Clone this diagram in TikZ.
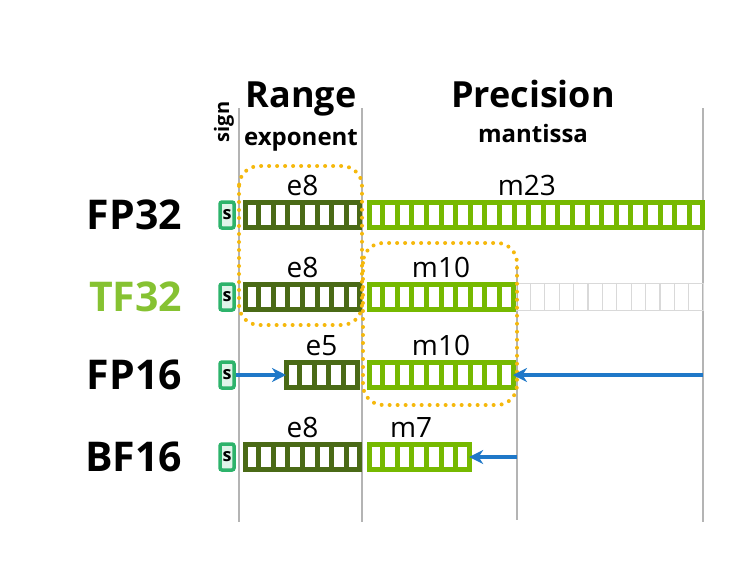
\documentclass[tikz,border=0pt]{standalone}
\usepackage{fontspec}
\setmainfont{Open Sans}
\usepackage{tikz}
\usetikzlibrary{arrows.meta,positioning,calc}
\definecolor{expo}{HTML}{4A6A16}
\definecolor{mant}{HTML}{76B900}
\definecolor{tfgreen}{HTML}{86C232}
\definecolor{signc}{HTML}{2DB36B}
\definecolor{arrowc}{HTML}{1F78C8}
\definecolor{gold}{HTML}{F5B80C}
\definecolor{rulec}{HTML}{B4B4B4}
\definecolor{ghost}{HTML}{D9D9D9}
\newcommand{\cw}{14.6}
\tikzset{
  bar/.style={draw=#1,line width=5pt,inner sep=0pt,outer sep=0pt,
              minimum height=25pt,anchor=west},
  signbox/.style={draw=signc,fill=signc!15,line width=3.5pt,rounded corners=2pt,
                  inner sep=0pt,minimum width=14pt,minimum height=26pt,
                  font=\fontsize{18}{18}\selectfont\bfseries},
  fmt/.style={font=\fontsize{41}{41}\selectfont\bfseries,inner sep=0pt,text depth=0pt},
  head/.style={font=\fontsize{36}{36}\selectfont\bfseries,inner sep=0pt,anchor=base},
  sub/.style={font=\fontsize{24}{24}\selectfont\bfseries,inner sep=0pt,anchor=base},
  lbl/.style={font=\fontsize{28}{28}\selectfont,inner sep=0pt,text depth=0pt},
  colrule/.style={rulec,line width=2pt},
  focus/.style={gold,line width=4pt,dash pattern=on 0pt off 8pt,
                line cap=round,rounded corners=20pt},
  shiftarrow/.style={-{Stealth[length=14pt,width=14pt]},line width=4.5pt,arrowc},
}

\begin{document}
\begin{tikzpicture}[x=1pt,y=-1pt]
  \useasboundingbox (0,0) rectangle (754,560);
  % column rules
  \draw[colrule] (239,108) -- (239,522);
  \draw[colrule] (362,108) -- (362,522);
  \draw[colrule] (517,265) -- (517,520);
  \draw[colrule] (703,108) -- (703,522);
  % headings
  \node[head] (range) at (301,107) {Range};
  \node[sub] (expol) at (301,145) {exponent};
  \node[head] (prec) at (533,107) {Precision};
  \node[sub] (mantl) at (533,142) {mantissa};
  \node[font=\fontsize{20}{20}\selectfont\bfseries,inner sep=0pt,rotate=90,
        anchor=base] (signl) at (229,122) {sign};
  % unused TF32 mantissa bits
  \node[draw=ghost,line width=1.2pt,inner sep=0pt,minimum width=13*14.4pt,
        minimum height=27pt,anchor=west] (tg) at (516,297) {};
  \foreach \k in {2,...,13}
    \draw[ghost,line width=1.2pt] ($(tg.north west)+({(\k-1)*14.4},0)$)
      -- ($(tg.south west)+({(\k-1)*14.4},0)$);
  % sign bits
  \foreach \nm/\yy in {fs/215,ts/297,hs/375,bs/457}
    \node[signbox] (\nm) at (227,\yy) {s};
  % exponent and mantissa fields
  \foreach \nm/\xa/\yy/\n/\col in {fe/245/215/8/expo,fm/369/215/23/mant,
      te/245/297/8/expo,tm/369/297/10/mant,he/286/375/5/expo,hm/369/375/10/mant,
      be/245/457/8/expo,bm/369/457/7/mant}{
    \node[bar=\col,minimum width=\n*\cw pt-2pt] (\nm) at (\xa,\yy) {};
    \foreach \k in {2,...,\n}
      \draw[\col,line width=5pt] ($(\nm.north west)+({(\k-1)*\cw-1},0)$)
        -- ($(\nm.south west)+({(\k-1)*\cw-1},0)$);
  }
  % format names
  \node[fmt,left=36pt of fs] (fp32) {FP32};
  \node[fmt,left=36pt of ts,text=tfgreen] (tf32) {TF32};
  \node[fmt,left=36pt of hs] (fp16) {FP16};
  \node[fmt,left=36pt of bs] (bf16) {BF16};
  % field widths
  \node[lbl,above=7pt of fe] (lfe) {e8};
  \node[lbl,above=7pt of fm,xshift=-9pt] (lfm) {m23};
  \node[lbl,above=7pt of te] (lte) {e8};
  \node[lbl,above=7pt of tm] (ltm) {m10};
  \node[lbl,above=7pt of he] (lhe) {e5};
  \node[lbl,above=7pt of hm] (lhm) {m10};
  \node[lbl,above=7pt of be] (lbe) {e8};
  \node[lbl,above=7pt of bm,xshift=-8pt] (lbm) {m7};
  % highlighted ranges
  \draw[focus] (239,166) rectangle (362,325);
  \draw[focus] (363,243) rectangle (517,405);
  % shifts
  \coordinate (hsrc) at (703,375);
  \coordinate (bsrc) at (517,457);
  \draw[shiftarrow] (hs.east) -- (he.west);
  \draw[shiftarrow] (hsrc) -- (hm.east);
  \draw[shiftarrow] (bsrc) -- (bm.east);
\end{tikzpicture}
\end{document}
